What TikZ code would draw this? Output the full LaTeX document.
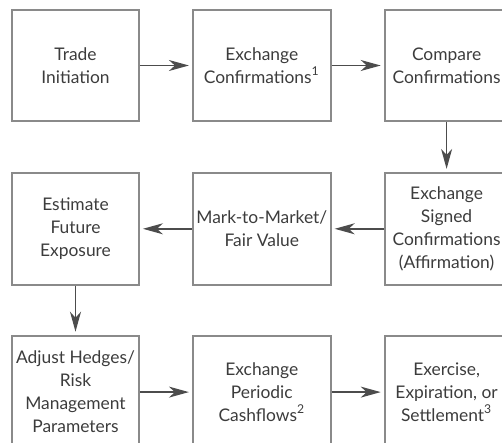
\documentclass[tikz,border=0pt]{standalone}
\usepackage{fontspec}
\setmainfont{Lato}
\usetikzlibrary{arrows.meta,positioning}
\definecolor{boxgray}{HTML}{8A8A8A}
\definecolor{txtgray}{HTML}{3C3C3C}

\begin{document}
\begin{tikzpicture}[font=\fontsize{8.7}{11.5}\selectfont, ->, >={Stealth[length=10pt, width=5.5pt, inset=3pt, sep=1.5pt]}]
    \tikzstyle{stage} = [rectangle, draw=boxgray, line width=0.9pt, text=txtgray, align=center, inner xsep=0pt, minimum height=55.5pt]
    \tikzstyle{flow}  = [draw=black!70, line width=0.7pt]

    \path[use as bounding box] (0,0) rectangle (251pt,-221.5pt);
    \clip (0,0) rectangle (251pt,-221.5pt);

    \node[stage, minimum width=63.5pt] (ti)  at (37.75pt,-32.75pt)   {Trade\\Initiation};
    \node[stage, minimum width=69pt,  right=26pt of ti]  (xc)  {Exchange\\Confirmations\textsuperscript{1}};
    \node[stage, minimum width=62pt,  right=26pt of xc]  (cc)  {Compare\\Confirmations};
    \node[stage, minimum width=62pt,  minimum height=56pt, below=25pt of cc] (xs)  {Exchange\\Signed\\Confirmations\\(Affirmation)};
    \node[stage, minimum width=69pt,  minimum height=56pt, below=25pt of xc] (mtm) {Mark-to-Market/\\Fair Value};
    \node[stage, minimum width=63.5pt, minimum height=56pt, below=25pt of ti] (efe) {Estimate\\Future\\Exposure};
    \node[stage, minimum width=63.5pt, minimum height=56.5pt, below=24.5pt of efe] (ah)  {Adjust Hedges/\\Risk\\Management\\Parameters};
    \node[stage, minimum width=69pt,  minimum height=56.5pt, below=24.5pt of mtm] (pc)  {Exchange\\Periodic\\Cashflows\textsuperscript{2}};
    \node[stage, minimum width=62pt,  minimum height=56.5pt, below=24.5pt of xs]  (ees) {Exercise,\\Expiration, or\\Settlement\textsuperscript{3}};

    \draw[flow] (ti)  -- (xc);
    \draw[flow] (xc)  -- (cc);
    \draw[flow] (cc)  -- (xs);
    \draw[flow] (xs)  -- (mtm);
    \draw[flow] (mtm) -- (efe);
    \draw[flow] (efe) -- (ah);
    \draw[flow] (ah)  -- (pc);
    \draw[flow] (pc)  -- (ees);
\end{tikzpicture}
\end{document}
